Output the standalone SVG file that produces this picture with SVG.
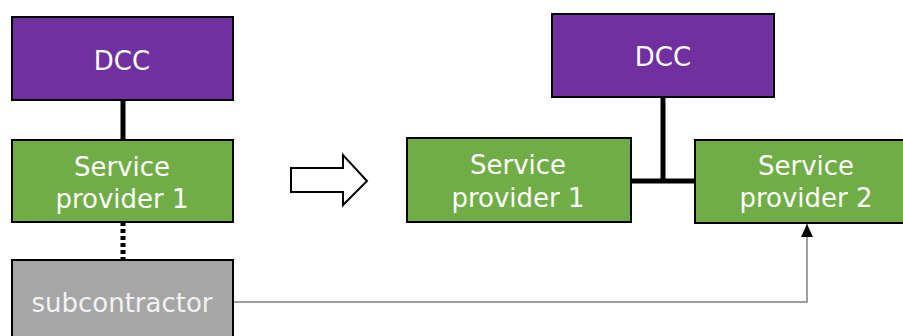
<svg xmlns="http://www.w3.org/2000/svg" width="903" height="336" viewBox="0 0 903 336">
<defs>
<style>
.box{stroke:#000;stroke-width:2}
.dcc{fill:#7030A0}
.sp{fill:#70AD47}
.sub{fill:#A6A6A6}
text{font-family:"DejaVu Sans",Verdana,sans-serif;font-size:26px;fill:#fff;text-anchor:middle}
.subt{fill:#F2F2F2}
.thick{stroke:#000;stroke-width:5;fill:none}
</style>
<marker id="ah" markerWidth="13" markerHeight="12" refX="13" refY="6" orient="auto" markerUnits="userSpaceOnUse" viewBox="0 0 13 12">
<path d="M0,0 L13,6 L0,12 Z" fill="#000"/>
</marker>
</defs>
<rect width="903" height="336" fill="#fff"/>
<g id="connectors">
<line class="thick" x1="123" y1="100" x2="123" y2="140"/>
<line x1="123" y1="222" x2="123" y2="260" stroke="#000" stroke-width="5" stroke-dasharray="4,3"/>
<line class="thick" x1="663" y1="97" x2="663" y2="182"/>
<line class="thick" x1="631" y1="181" x2="695" y2="181"/>
<polyline points="234,302 807,302 807,224" fill="none" stroke="#808080" stroke-width="1.5" marker-end="url(#ah)"/>
</g>
<g id="dcc-left"><rect class="box dcc" x="12" y="17" width="221" height="83"/><text x="122" y="70">DCC</text></g>
<g id="sp1-left"><rect class="box sp" x="12" y="140" width="221" height="82"/><text x="122" y="176">Service</text><text x="122" y="208">provider 1</text></g>
<g id="subcontractor"><rect class="box sub" x="12" y="260" width="221" height="90"/><text class="subt" x="122" y="312">subcontractor</text></g>
<g id="transition-arrow"><path d="M291,168 H343 V155 L367,181 L343,205 V192 H291 Z" fill="#fff" stroke="#000" stroke-width="2"/></g>
<g id="dcc-right"><rect class="box dcc" x="552" y="14" width="222" height="83"/><text x="663" y="66">DCC</text></g>
<g id="sp1-right"><rect class="box sp" x="407" y="138" width="224" height="84"/><text x="518" y="174">Service</text><text x="518" y="207">provider 1</text></g>
<g id="sp2-right"><rect class="box sp" x="695" y="140" width="222" height="83"/><text x="806" y="175">Service</text><text x="806" y="207">provider 2</text></g>
</svg>
